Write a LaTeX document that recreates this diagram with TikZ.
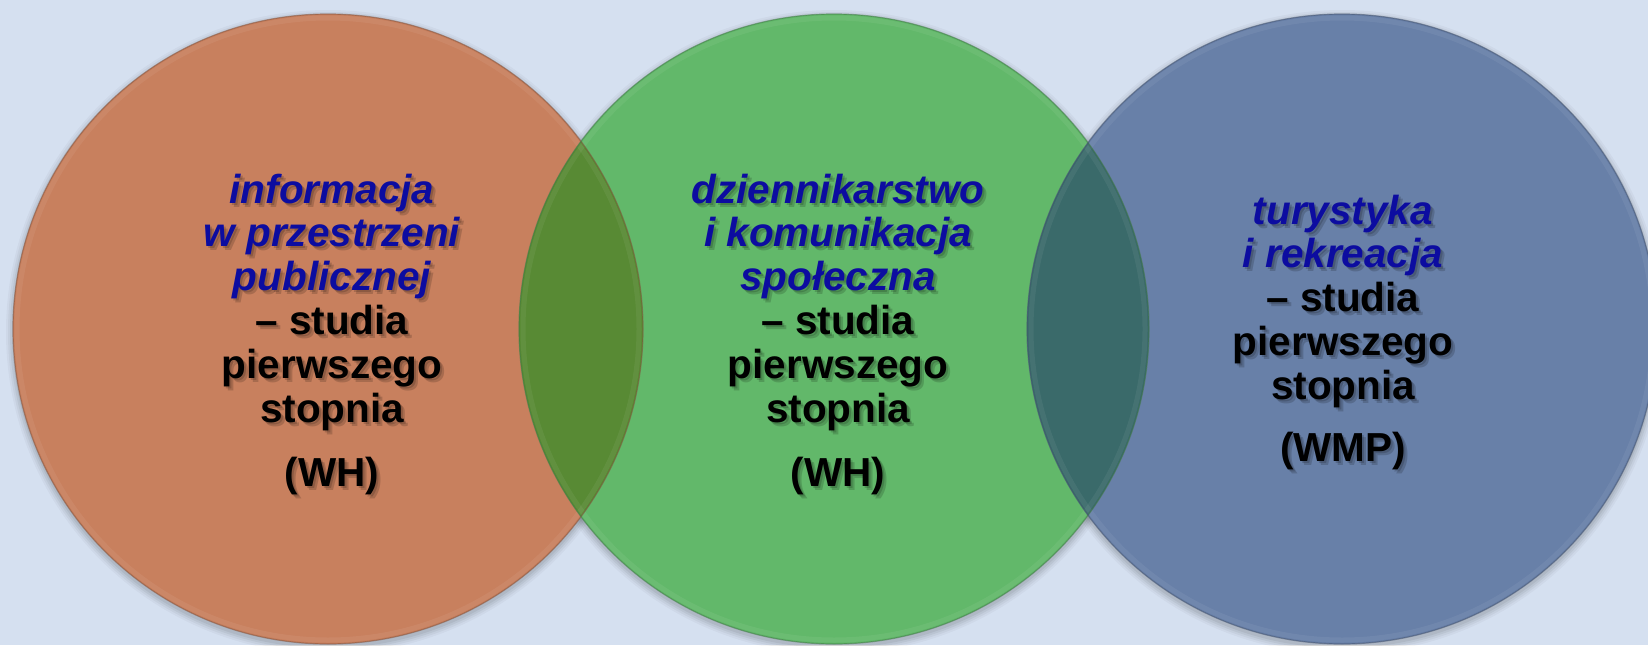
\documentclass[tikz,border=0pt]{standalone}
\usepackage{fontspec}
\setmainfont{Liberation Sans}
\definecolor{bg}{HTML}{D5E0F0}
\definecolor{corange}{HTML}{C8805E}
\definecolor{cgreen}{HTML}{62B86A}
\definecolor{cblue}{HTML}{6880A8}
\definecolor{cog}{HTML}{588A34}
\definecolor{cgb}{HTML}{3A6A6A}
\definecolor{tblue}{HTML}{0C0CA0}
\newcommand{\lblfont}{\fontsize{40.5}{43.8}\selectfont\bfseries}
\newcommand{\txtA}[2]{\begin{tabular}[t]{@{}c@{}}\textcolor{#1}{\itshape informacja}\\ \textcolor{#1}{\itshape w przestrzeni}\\ \textcolor{#1}{\itshape publicznej}\\ \textcolor{#2}{– studia}\\ \textcolor{#2}{pierwszego}\\ \textcolor{#2}{stopnia}\\[21pt] \textcolor{#2}{(WH)}\end{tabular}}
\newcommand{\txtB}[2]{\begin{tabular}[t]{@{}c@{}}\textcolor{#1}{\itshape dziennikarstwo}\\ \textcolor{#1}{\itshape i komunikacja}\\ \textcolor{#1}{\itshape społeczna}\\ \textcolor{#2}{– studia}\\ \textcolor{#2}{pierwszego}\\ \textcolor{#2}{stopnia}\\[21pt] \textcolor{#2}{(WH)}\end{tabular}}
\newcommand{\txtC}[2]{\begin{tabular}[t]{@{}c@{}}\textcolor{#1}{\itshape turystyka}\\ \textcolor{#1}{\itshape i rekreacja}\\ \textcolor{#2}{– studia}\\ \textcolor{#2}{pierwszego}\\ \textcolor{#2}{stopnia}\\[18pt] \textcolor{#2}{(WMP)}\end{tabular}}
\tikzset{
  circ/.style={circle, minimum size=630pt, inner sep=0pt, outer sep=0pt},
  rim/.style={line width=1.2pt, opacity=0.55},
  lbl/.style={anchor=base, inner sep=0pt, font=\lblfont},
  shd/.style={lbl, text=black, text opacity=0.16},
}
\begin{document}
\begin{tikzpicture}[x=1pt,y=-1pt]
\useasboundingbox (0,0) rectangle (1648,645);
\clip (0,0) rectangle (1648,645);
\fill[bg] (0,0) rectangle (1648,645);
% soft shadows under circles
\foreach \cx in {328,834,1342}{
  \foreach \r/\o in {322/0.03,320/0.04,318/0.05,316/0.06}{
    \fill[black, opacity=\o] (\cx,332) circle[radius=\r pt];
  }
}
% circles
\node[circ, fill=corange] (A) at (328,329) {};
\node[circ, fill=cgreen] (B) at (834,329) {};
\node[circ, fill=cblue] (C) at (1342,329) {};
% overlaps
\begin{scope}
  \clip (A.center) circle[radius=315pt];
  \fill[cog] (B.center) circle[radius=315pt];
\end{scope}
\begin{scope}
  \clip (B.center) circle[radius=315pt];
  \fill[cgb] (C.center) circle[radius=315pt];
\end{scope}
% subtle inner bevel
\draw[white, line width=5pt, opacity=0.06] (A.center) circle[radius=311pt];
\draw[white, line width=5pt, opacity=0.06] (B.center) circle[radius=311pt];
\draw[white, line width=5pt, opacity=0.06] (C.center) circle[radius=311pt];
% rims
\draw[rim, corange!65!black] (A.center) circle[radius=315pt];
\draw[rim, cgreen!65!black] (B.center) circle[radius=315pt];
\draw[rim, cblue!65!black] (C.center) circle[radius=315pt];
% texts with soft shadows
\node[shd] (tAs1) at (334,205) {\txtA{black}{black}};
\node[shd] (tAs2) at (336,207) {\txtA{black}{black}};
\node[lbl] (tA) at (332,203) {\txtA{tblue}{black}};
\node[shd] (tBs1) at (840,205) {\txtB{black}{black}};
\node[shd] (tBs2) at (842,207) {\txtB{black}{black}};
\node[lbl] (tB) at (838,203) {\txtB{tblue}{black}};
\node[shd] (tCs1) at (1345,226) {\txtC{black}{black}};
\node[shd] (tCs2) at (1347,228) {\txtC{black}{black}};
\node[lbl] (tC) at (1343,224) {\txtC{tblue}{black}};
\end{tikzpicture}
\end{document}
